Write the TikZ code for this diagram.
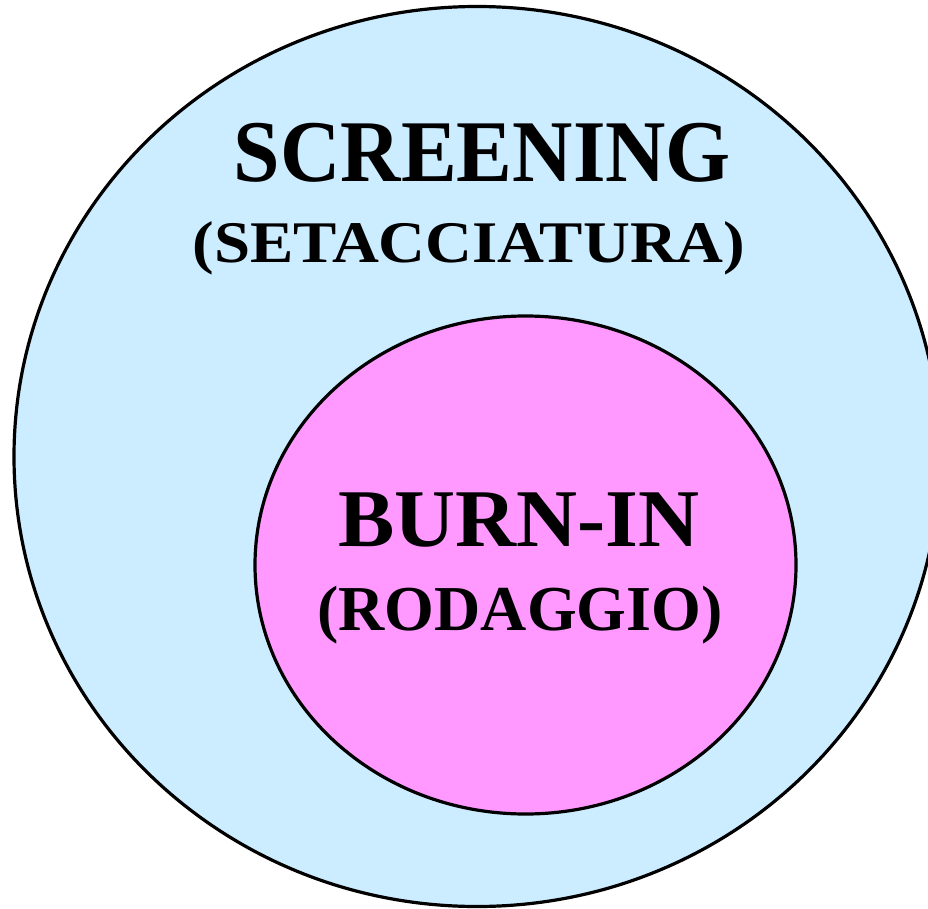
\documentclass[tikz,border=0pt]{standalone}
\usepackage{fontspec}
\setmainfont{Liberation Serif}
\definecolor{outerfill}{HTML}{CCECFF}
\definecolor{innerfill}{HTML}{FF99FF}
\tikzset{
  set/.style={draw=black, line width=3.2pt},
  label/.style={anchor=base, inner sep=0pt},
}
\begin{document}
\begin{tikzpicture}[x=1pt, y=-1pt]
  \useasboundingbox (0,0) rectangle (928,909);
  \clip (0,0) rectangle (928,909);
  % outer set: screening
  \draw[set, fill=outerfill] (477,456.5) ellipse [x radius=463, y radius=450];
  % inner set: burn-in
  \draw[set, fill=innerfill] (525.5,565) ellipse [x radius=270.5, y radius=249];
  \node[label, xscale=0.95, font=\fontsize{88}{88}\selectfont\bfseries] (scr) at (482.5,182) {SCREENING};
  \node[label, xscale=1.10, font=\fontsize{59}{59}\selectfont\bfseries] (set) at (469,262) {(SETACCIATURA)};
  \node[label, xscale=1.03, font=\fontsize{82}{82}\selectfont\bfseries] (burn) at (519,546) {BURN-IN};
  \node[label, font=\fontsize{64}{64}\selectfont\bfseries] (rod) at (520,630) {(RODAGGIO)};
\end{tikzpicture}
\end{document}
